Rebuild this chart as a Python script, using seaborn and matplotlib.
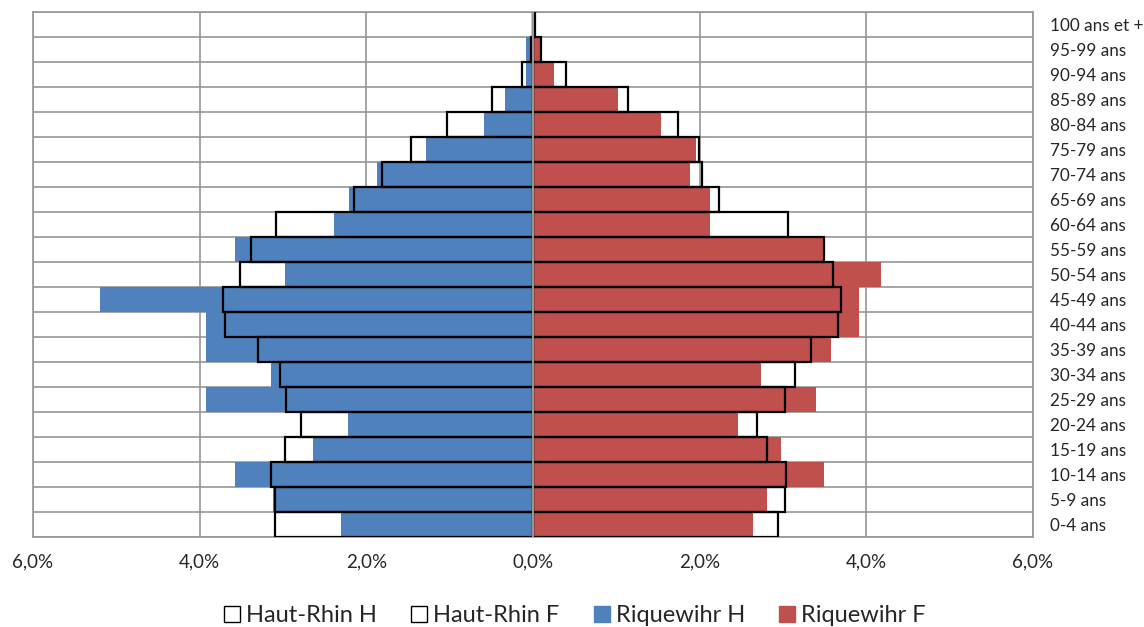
import pandas as pd
import numpy as np
import seaborn as sns
import matplotlib.pyplot as plt
from matplotlib.patches import Patch
from matplotlib.ticker import FuncFormatter

# age groups, top to bottom
ages = ['100 ans et +', '95-99 ans', '90-94 ans', '85-89 ans', '80-84 ans', '75-79 ans',
        '70-74 ans', '65-69 ans', '60-64 ans', '55-59 ans', '50-54 ans', '45-49 ans',
        '40-44 ans', '35-39 ans', '30-34 ans', '25-29 ans', '20-24 ans', '15-19 ans',
        '10-14 ans', '5-9 ans', '0-4 ans']

# shares of population in %
haut_rhin_h = [0.005, 0.03, 0.13, 0.49, 1.03, 1.46, 1.81, 2.15, 3.09, 3.39, 3.52, 3.72,
               3.70, 3.30, 3.04, 2.96, 2.79, 2.98, 3.14, 3.10, 3.10]
haut_rhin_f = [0.02, 0.09, 0.40, 1.14, 1.74, 1.99, 2.03, 2.23, 3.06, 3.49, 3.60, 3.69,
               3.66, 3.34, 3.14, 3.02, 2.69, 2.81, 3.03, 3.02, 2.94]
riquewihr_h = [0.0, 0.08, 0.08, 0.34, 0.59, 1.28, 1.87, 2.21, 2.39, 3.58, 2.98, 5.20,
               3.92, 3.92, 3.14, 3.92, 2.22, 2.64, 3.58, 3.12, 2.30]
riquewihr_f = [0.0, 0.09, 0.25, 1.02, 1.53, 1.96, 1.88, 2.12, 2.12, 3.48, 4.17, 3.91,
               3.91, 3.58, 2.73, 3.40, 2.46, 2.98, 3.49, 2.81, 2.64]

blue = '#4F81BD'
red = '#C0504D'
grey = '#969696'

sns.set_style('white')
plt.rcParams['font.family'] = ['Lato', 'DejaVu Sans']

fig = plt.figure(figsize=(11.44, 6.27), dpi=100)
ax = fig.add_axes([33 / 1144, 1 - 537 / 627, 1000 / 1144, 525 / 627])

# Riquewihr filled bars (men on the left as negatives)
sns.barplot(x=-np.array(riquewihr_h), y=ages, order=ages, orient='h', width=1.0,
            color=blue, saturation=1, linewidth=0, ax=ax, zorder=2)
sns.barplot(x=np.array(riquewihr_f), y=ages, order=ages, orient='h', width=1.0,
            color=red, saturation=1, linewidth=0, ax=ax, zorder=2)

# Haut-Rhin outlines on top
sns.barplot(x=-np.array(haut_rhin_h), y=ages, order=ages, orient='h', width=1.0,
            color='black', fill=False, linewidth=1.6, ax=ax, zorder=3)
sns.barplot(x=np.array(haut_rhin_f), y=ages, order=ages, orient='h', width=1.0,
            color='black', fill=False, linewidth=1.6, ax=ax, zorder=3)

ax.set_xlim(-6, 6)
ax.set_ylim(len(ages) - 0.5, -0.5)
ax.set_xticks(np.arange(-6, 7, 2))
ax.xaxis.set_major_formatter(FuncFormatter(lambda v, p: f'{abs(v):.1f}%'.replace('.', ',')))
ax.set_yticks(np.arange(-0.5, len(ages), 1), minor=True)

ax.grid(axis='x', which='major', color=grey, linewidth=1.2, zorder=0)
ax.grid(axis='y', which='minor', color=grey, linewidth=1.2, zorder=0)
ax.set_axisbelow(True)
ax.axvline(0, color=grey, linewidth=1.5, zorder=4)

for s in ax.spines.values():
    s.set_color(grey)
    s.set_linewidth(1.2)

ax.yaxis.tick_right()
ax.tick_params(axis='y', which='both', length=0, pad=12, labelsize=12.3)
ax.tick_params(axis='x', which='major', length=3.5, width=1.2, color=grey, pad=8, labelsize=13.5)
ax.tick_params(axis='y', which='minor', length=0)
ax.set_xlabel('')
ax.set_ylabel('')

handles = [Patch(facecolor='white', edgecolor='black', linewidth=1.0),
           Patch(facecolor='white', edgecolor='black', linewidth=1.0),
           Patch(facecolor=blue, edgecolor=blue),
           Patch(facecolor=red, edgecolor=red)]
labels = ['Haut-Rhin H', 'Haut-Rhin F', 'Riquewihr H', 'Riquewihr F']
fig.legend(handles, labels, loc='center', bbox_to_anchor=(575 / 1144, 1 - 616 / 627),
           ncol=4, frameon=False, fontsize=17, handlelength=0.68, handleheight=0.68,
           handletextpad=0.25, columnspacing=1.45)

fig.savefig('out.png', dpi=100)
